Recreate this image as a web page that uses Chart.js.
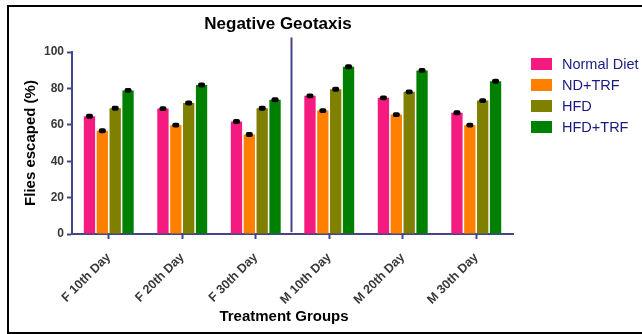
<!DOCTYPE html>
<html>
<head>
<meta charset="utf-8">
<script src="https://cdn.jsdelivr.net/npm/chart.js@4.4.1/dist/chart.umd.min.js"></script>
<style>
  html, body { margin: 0; padding: 0; background: #fff; }
  #wrap { position: relative; width: 642px; height: 334px; }
</style>
</head>
<body>
<div id="wrap"><canvas id="c" width="642" height="334"></canvas></div>
<script>
// Treatment groups (sex + age in days)
const categories = ['F 10th Day', 'F 20th Day', 'F 30th Day', 'M 10th Day', 'M 20th Day', 'M 30th Day'];

// Percentage of flies escaped, per diet group
const normalDiet = [64.7, 68.9, 61.8, 75.9, 74.8, 66.6];
const ndTrf      = [56.7, 59.8, 54.7, 67.8, 65.6, 59.8];
const hfd        = [69.1, 72.0, 69.1, 79.5, 78.1, 73.3];
const hfdTrf     = [78.9, 81.9, 73.8, 91.9, 89.9, 83.9];

// Standard error for each bar
const normalDietErr = [0.8, 0.8, 0.8, 0.8, 0.8, 0.8];
const ndTrfErr      = [0.8, 0.8, 0.8, 0.8, 0.8, 0.8];
const hfdErr        = [0.8, 0.8, 0.8, 0.8, 0.8, 0.8];
const hfdTrfErr     = [0.8, 0.8, 0.8, 0.8, 0.8, 0.8];

const yTicks = [0, 20, 40, 60, 80, 100];
const seriesNames = ['Normal Diet', 'ND+TRF', 'HFD', 'HFD+TRF'];

const AXIS = '#45458a';
const FONT = '"Liberation Sans", Arial, sans-serif';

// white page with a black frame on the left, top and bottom
const framePlugin = {
  id: 'frame',
  beforeDraw(chart) {
    const ctx = chart.ctx;
    ctx.save();
    ctx.fillStyle = '#fff';
    ctx.fillRect(0, 0, chart.width, chart.height);
    ctx.fillStyle = '#000';
    ctx.fillRect(7, 5, chart.width - 7, 2);
    ctx.fillRect(7, 5, 2, chart.height - 5);
    ctx.fillRect(7, chart.height - 2, chart.width - 7, 2);
    ctx.restore();
  }
};

// error bars drawn on top of each bar
const errorBarPlugin = {
  id: 'errorBars',
  afterDatasetsDraw(chart) {
    const ctx = chart.ctx;
    const y = chart.scales.y;
    ctx.save();
    ctx.strokeStyle = '#000';
    ctx.fillStyle = '#000';
    chart.data.datasets.forEach((ds, di) => {
      const meta = chart.getDatasetMeta(di);
      meta.data.forEach((bar, i) => {
        const v = ds.data[i], e = ds.errors[i];
        const yTop = y.getPixelForValue(v + e);
        const yBot = y.getPixelForValue(v - e);
        const half = 3.5;
        ctx.lineWidth = 1.5;
        ctx.beginPath();
        ctx.moveTo(bar.x, yTop); ctx.lineTo(bar.x, yBot);
        ctx.stroke();
        ctx.beginPath();
        ctx.roundRect(bar.x - half, yTop - 1, half * 2, (yBot - yTop) + 2, 2);
        ctx.fill();
      });
    });
    ctx.restore();
  }
};

// divider between the female and male groups, titles and legend
const extrasPlugin = {
  id: 'extras',
  afterDraw(chart) {
    const ctx = chart.ctx;
    const x = chart.scales.x, y = chart.scales.y;
    ctx.save();
    const xs = (x.getPixelForTick(2) + x.getPixelForTick(3)) / 2 - 1;
    ctx.strokeStyle = AXIS;
    ctx.lineWidth = 2;
    ctx.beginPath();
    ctx.moveTo(xs, y.getPixelForValue(108));
    ctx.lineTo(xs, y.getPixelForValue(1));
    ctx.stroke();

    ctx.fillStyle = '#000';
    ctx.font = 'bold 17px ' + FONT;
    ctx.textAlign = 'center';
    ctx.textBaseline = 'middle';
    ctx.fillText('Negative Geotaxis', 278, 24);

    ctx.font = 'bold 15px ' + FONT;
    ctx.fillText('Treatment Groups', 284, 317);

    // legend
    ctx.font = '14.5px ' + FONT;
    ctx.textAlign = 'left';
    chart.data.datasets.forEach((ds, i) => {
      const cy = 64 + i * 21;
      ctx.fillStyle = ds.backgroundColor;
      ctx.fillRect(531, cy - 6, 21, 12);
      ctx.fillStyle = '#1a1a80';
      ctx.fillText(ds.label, 562, cy + 1);
    });
    ctx.restore();
  }
};

const colors = ['#f51a80', '#ff8000', '#808000', '#008000'];
const values = [normalDiet, ndTrf, hfd, hfdTrf];
const errors = [normalDietErr, ndTrfErr, hfdErr, hfdTrfErr];

new Chart(document.getElementById('c'), {
  type: 'bar',
  data: {
    labels: categories,
    datasets: seriesNames.map((name, i) => ({
      label: name,
      data: values[i],
      errors: errors[i],
      backgroundColor: colors[i],
      borderWidth: 0,
      categoryPercentage: 0.7,
      barPercentage: 0.88
    }))
  },
  options: {
    responsive: false,
    animation: false,
    devicePixelRatio: 1,
    layout: { padding: { left: 10, right: 129, top: 52, bottom: 8 } },
    plugins: {
      legend: { display: false },
      title: { display: false },
      tooltip: { enabled: false }
    },
    scales: {
      x: {
        grid: { display: true, drawOnChartArea: false, offset: false, tickLength: 5, tickWidth: 2, color: AXIS },
        border: { color: AXIS, width: 2 },
        ticks: {
          minRotation: 45, maxRotation: 45, padding: 11,
          color: '#383838', font: { family: FONT, size: 12.5, weight: 'bold' }
        },
        title: { display: false },
        afterFit(scale) { scale.height = 92; }
      },
      y: {
        min: 0, max: 100,
        afterBuildTicks(scale) { scale.ticks = yTicks.map(v => ({ value: v })); },
        grid: { display: true, drawOnChartArea: false, tickLength: 5, tickWidth: 2, color: AXIS },
        border: { color: AXIS, width: 2 },
        ticks: {
          padding: 3, color: '#383838',
          font: { family: FONT, size: 12, weight: 'bold' }
        },
        title: {
          display: true, text: 'Flies escaped (%)', color: '#000',
          font: { family: FONT, size: 15, weight: 'bold' },
          padding: { top: 12, bottom: 0 }
        },
        afterFit(scale) { scale.width = 62; }
      }
    }
  },
  plugins: [framePlugin, errorBarPlugin, extrasPlugin]
});
</script>
</body>
</html>
